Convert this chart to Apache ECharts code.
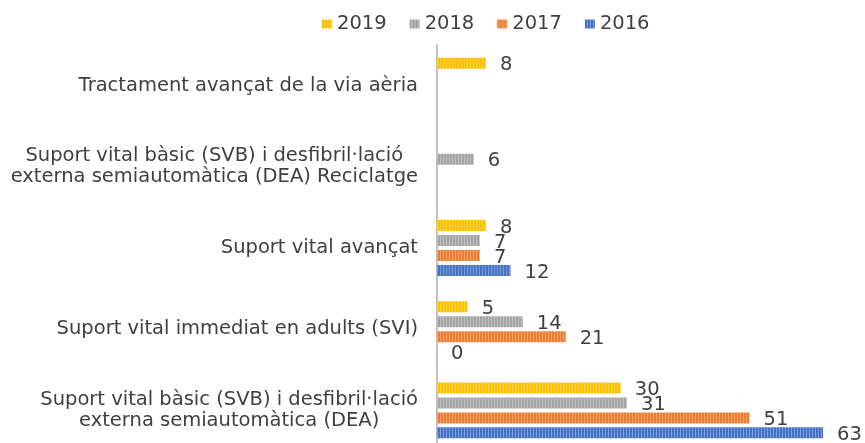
<!DOCTYPE html>
<html>
<head>
<meta charset="utf-8">
<script src="https://cdn.jsdelivr.net/npm/echarts@6/dist/echarts.min.js"></script>
<style>
  html, body { margin: 0; padding: 0; background: #fff; }
  #chart { width: 865px; height: 443px; }
</style>
</head>
<body>
<div id="chart"></div>
<script>
// categories, top to bottom
const categories = [
  'Tractament avançat de la via aèria',
  'Suport vital bàsic (SVB) i desfibril·lació\nexterna semiautomàtica (DEA) Reciclatge',
  'Suport vital avançat',
  'Suport vital immediat en adults (SVI)',
  'Suport vital bàsic (SVB) i desfibril·lació\nexterna semiautomàtica (DEA)'
];
const years = ['2019', '2018', '2017', '2016'];
const values2019 = [8, null, 8, 5, 30];
const values2018 = [null, 6, 7, 14, 31];
const values2017 = [null, null, 7, 21, 51];
const values2016 = [null, null, 12, 0, 63];
const seriesValues = [values2019, values2018, values2017, values2016];
const colors = ['#FFC000', '#A5A5A5', '#ED7D31', '#4472C4'];

const FONT = 'DejaVu Sans';
const FS = 19.5;

// striped fill like the original bars
function lighten(hex, k) {
  const n = parseInt(hex.slice(1), 16);
  const r = (n >> 16) & 255, g = (n >> 8) & 255, b = n & 255;
  const f = c => Math.round(c + (255 - c) * k);
  return 'rgb(' + f(r) + ',' + f(g) + ',' + f(b) + ')';
}
function stripes(hex) {
  const cv = document.createElement('canvas');
  cv.width = 3;
  cv.height = 4;
  const ctx = cv.getContext('2d');
  ctx.fillStyle = hex;
  ctx.fillRect(0, 0, 3, 4);
  ctx.fillStyle = lighten(hex, 0.3);
  ctx.fillRect(2, 0, 1, 4);
  return { image: cv, repeat: 'repeat' };
}

const chart = echarts.init(document.getElementById('chart'));

const series = years.map((y, i) => ({
  name: y,
  type: 'bar',
  data: seriesValues[i],
  barWidth: 11,
  barGap: '36%',
  itemStyle: { color: stripes(colors[i]) },
  label: {
    show: true,
    position: 'right',
    distance: 14,
    offset: [0, 2],
    color: '#404040',
    fontFamily: FONT,
    fontSize: FS
  }
}));

chart.setOption({
  animation: false,
  color: colors,
  legend: {
    data: years,
    icon: 'rect',
    left: 317,
    top: 9,
    itemWidth: 10,
    itemHeight: 9,
    itemGap: 23,
    textStyle: { color: '#404040', fontFamily: FONT, fontSize: FS }
  },
  grid: { left: 437, top: 45, width: 429, height: 406, outerBoundsMode: 'none' },
  xAxis: {
    type: 'value',
    min: 0,
    max: 70,
    show: false
  },
  yAxis: {
    type: 'category',
    inverse: true,
    data: categories,
    axisTick: { show: false },
    axisLine: { lineStyle: { color: '#BFBFBF', width: 2 } },
    axisLabel: {
      margin: 19,
      color: '#404040',
      fontFamily: FONT,
      fontSize: FS,
      lineHeight: 21,
      formatter: v => v.split('\n').map(s => '{c|' + s + '}').join('\n'),
      rich: { c: { align: 'center', color: '#404040', fontFamily: FONT, fontSize: FS, lineHeight: 21 } }
    }
  },
  series: series
});
</script>
</body>
</html>
